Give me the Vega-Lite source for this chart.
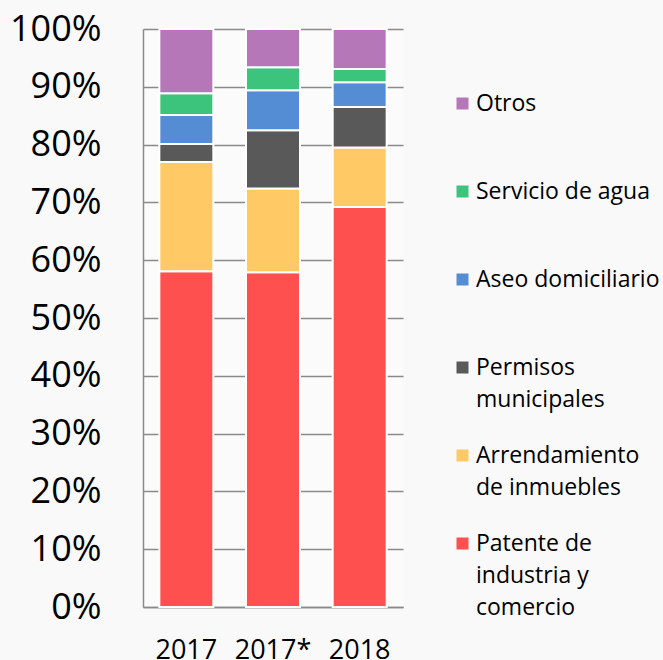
{
  "$schema": "https://vega.github.io/schema/vega-lite/v6.json",
  "autosize": "none",
  "width": 260,
  "height": 578,
  "padding": {"left": 143, "top": 29, "right": 260, "bottom": 53},
  "background": "#f9f9f9",
  "config": {
    "view": {"stroke": null, "fill": "#fbfbfb"},
    "font": "Open Sans",
    "style": {"guide-label": {"lineHeight": 32}}
  },
  "data": {
    "values": [
      {"anio": "2017", "rubro": "Patente de industria y comercio", "orden": 1, "valor": 58.1},
      {"anio": "2017", "rubro": "Arrendamiento de inmuebles", "orden": 2, "valor": 18.9},
      {"anio": "2017", "rubro": "Permisos municipales", "orden": 3, "valor": 3.1},
      {"anio": "2017", "rubro": "Aseo domiciliario", "orden": 4, "valor": 5.0},
      {"anio": "2017", "rubro": "Servicio de agua", "orden": 5, "valor": 3.8},
      {"anio": "2017", "rubro": "Otros", "orden": 6, "valor": 11.1},
      {"anio": "2017*", "rubro": "Patente de industria y comercio", "orden": 1, "valor": 57.9},
      {"anio": "2017*", "rubro": "Arrendamiento de inmuebles", "orden": 2, "valor": 14.5},
      {"anio": "2017*", "rubro": "Permisos municipales", "orden": 3, "valor": 10.1},
      {"anio": "2017*", "rubro": "Aseo domiciliario", "orden": 4, "valor": 6.9},
      {"anio": "2017*", "rubro": "Servicio de agua", "orden": 5, "valor": 4.0},
      {"anio": "2017*", "rubro": "Otros", "orden": 6, "valor": 6.6},
      {"anio": "2018", "rubro": "Patente de industria y comercio", "orden": 1, "valor": 69.2},
      {"anio": "2018", "rubro": "Arrendamiento de inmuebles", "orden": 2, "valor": 10.3},
      {"anio": "2018", "rubro": "Permisos municipales", "orden": 3, "valor": 7.0},
      {"anio": "2018", "rubro": "Aseo domiciliario", "orden": 4, "valor": 4.3},
      {"anio": "2018", "rubro": "Servicio de agua", "orden": 5, "valor": 2.3},
      {"anio": "2018", "rubro": "Otros", "orden": 6, "valor": 6.9}
    ]
  },
  "mark": {"type": "bar", "stroke": "white", "strokeWidth": 2},
  "encoding": {
    "x": {
      "field": "anio", "type": "nominal", "title": null,
      "scale": {"paddingInner": 0.377, "paddingOuter": 0.1885},
      "axis": {
        "labelAngle": 0, "labelFontSize": 27, "labelColor": "#000000",
        "labelPadding": 30, "ticks": false, "domainColor": "#8a8a8a", "domainWidth": 1.5,
        "labelFont": "Open Sans"
      }
    },
    "y": {
      "field": "valor", "type": "quantitative", "stack": "normalize", "title": null,
      "scale": {"domain": [0, 1]},
      "axis": {
        "values": [0, 0.1, 0.2, 0.3, 0.4, 0.5, 0.6, 0.7, 0.8, 0.9, 1],
        "format": ".0%", "labelFontSize": 36, "labelColor": "#000000",
        "labelPadding": 42, "ticks": false, "domainColor": "#8a8a8a", "domainWidth": 1.5,
        "gridColor": "#8a8a8a", "gridWidth": 1.5, "labelFont": "Open Sans"
      }
    },
    "color": {
      "field": "rubro", "type": "nominal", "title": null,
      "scale": {
        "domain": ["Otros", "Servicio de agua", "Aseo domiciliario", "Permisos municipales", "Arrendamiento de inmuebles", "Patente de industria y comercio"],
        "range": ["#b677b9", "#3dc47c", "#548dd4", "#595959", "#ffc966", "#ff5050"]
      },
      "legend": {
        "orient": "none", "legendX": 308, "legendY": 63,
        "symbolType": "square", "symbolSize": 144, "symbolStrokeWidth": 0,
        "labelFontSize": 23, "labelColor": "#000000", "labelFont": "Open Sans",
        "labelOffset": 2, "labelLimit": 300,
        "gridAlign": "all", "rowPadding": -0.6, "padding": 0,
        "labelExpr": "datum.label == 'Permisos municipales' ? ['Permisos', 'municipales'] : datum.label == 'Arrendamiento de inmuebles' ? ['Arrendamiento', 'de inmuebles'] : datum.label == 'Patente de industria y comercio' ? ['Patente de', 'industria y', 'comercio'] : datum.label"
      }
    },
    "order": {"field": "orden", "type": "quantitative"}
  }
}
